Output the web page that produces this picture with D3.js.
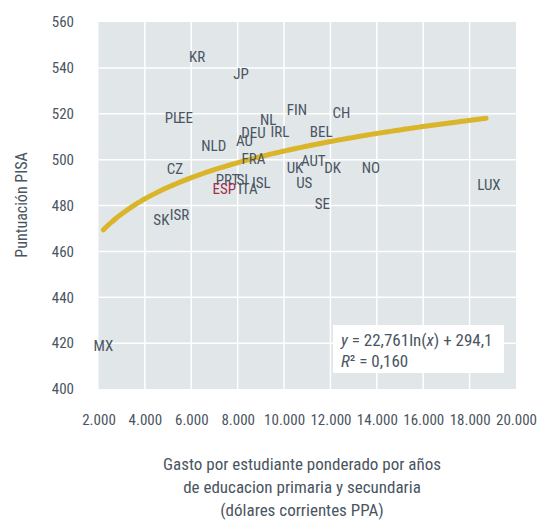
<!DOCTYPE html>
<html>
<head>
<meta charset="utf-8">
<script src="https://cdn.jsdelivr.net/npm/d3@7"></script>
<style>
  html, body { margin: 0; padding: 0; background: #ffffff; }
  svg text { font-family: "Roboto", sans-serif; font-stretch: condensed; }
</style>
</head>
<body>
<svg id="chart" width="537" height="520"></svg>
<script>
// ---- data ----
const countries = ["KR","JP","PL","EE","NL","FIN","CH","DEU","AU","IRL","BEL","NLD","FRA","CZ","UK","AUT","DK","NO","US","SE","PRT","SI","ESP","ITA","ISL","ISR","SK","MX","LUX"];
const gasto     = [6250, 8150, 5190, 5750, 9320, 10550, 12470, 8680, 8290, 9820, 11600, 6970, 8680, 5300, 10470, 11260, 12090, 13740, 10870, 11650, 7560, 8200, 7420, 8440, 9020, 5490, 4710, 2215, 18830];
const pisa      = [544.9, 537.4, 518.3, 518.3, 517.4, 521.7, 520.4, 511.5, 508.3, 512.2, 512.2, 505.9, 500.2, 495.9, 496.5, 499.3, 496.3, 496.5, 489.6, 480.7, 491.3, 491.3, 487.2, 487.2, 489.6, 475.9, 473.5, 418.9, 489.1];
const highlighted = ["ESP"];

const xTicks = [2000, 4000, 6000, 8000, 10000, 12000, 14000, 16000, 18000, 20000];
const xTickLabels = ["2.000","4.000","6.000","8.000","10.000","12.000","14.000","16.000","18.000","20.000"];
const yTicks = [400, 420, 440, 460, 480, 500, 520, 540, 560];

// trend: y = a ln(x) + b
const trendA = 22.761, trendB = 294.1;
const trendRange = [2215, 18710];

const yTitle = "Puntuación PISA";
const xTitle = ["Gasto por estudiante ponderado por años", "de educacion primaria y secundaria", "(dólares corrientes PPA)"];

// ---- layout ----
const svg = d3.select("#chart");
const x = d3.scaleLinear().domain([2000, 20000]).range([98.5, 516]);
const y = d3.scaleLinear().domain([400, 560]).range([389, 22]);

const textColor = "#4a5562";
const bg = "#e1e6e9";

// background
svg.append("rect")
  .attr("x", x(2000)).attr("y", y(560))
  .attr("width", x(20000) - x(2000)).attr("height", y(400) - y(560))
  .attr("fill", bg);

// grid
svg.append("g").selectAll("line").data(xTicks.slice(1, -1)).join("line")
  .attr("x1", d => x(d)).attr("x2", d => x(d))
  .attr("y1", y(560)).attr("y2", y(400))
  .attr("stroke", "#fff").attr("stroke-width", 1.5);
svg.append("g").selectAll("line").data(yTicks.slice(1, -1)).join("line")
  .attr("x1", x(2000)).attr("x2", x(20000))
  .attr("y1", d => y(d)).attr("y2", d => y(d))
  .attr("stroke", "#fff").attr("stroke-width", 1.5);

// axes (labels only)
const xAxis = d3.axisBottom(x).tickValues(xTicks).tickFormat((d, i) => xTickLabels[i]).tickSize(0).tickPadding(0);
const gx = svg.append("g").attr("transform", `translate(0, 414)`).call(xAxis);
gx.select(".domain").remove();
gx.selectAll("text").attr("fill", textColor).attr("font-size", 15).attr("font-family", null);

const yAxis = d3.axisLeft(y).tickValues(yTicks).tickFormat(d3.format("d")).tickSize(0).tickPadding(0);
const gy = svg.append("g").attr("transform", `translate(74, 0)`).call(yAxis);
gy.select(".domain").remove();
gy.selectAll("text").attr("fill", textColor).attr("font-size", 15).attr("font-family", null);

// trend line
const trendData = d3.range(0, 101).map(i => {
  const xv = trendRange[0] + (trendRange[1] - trendRange[0]) * i / 100;
  return [xv, trendA * Math.log(xv) + trendB];
});
svg.append("path")
  .attr("d", d3.line().x(d => x(d[0])).y(d => y(d[1])).curve(d3.curveMonotoneX)(trendData))
  .attr("fill", "none").attr("stroke", "#dab52a").attr("stroke-width", 5).attr("stroke-linecap", "round");

// country labels
svg.append("g").selectAll("text").data(countries).join("text")
  .attr("x", (d, i) => x(gasto[i]))
  .attr("y", (d, i) => y(pisa[i]))
  .attr("text-anchor", "middle")
  .attr("dominant-baseline", "central")
  .attr("font-size", 15)
  .attr("fill", d => highlighted.includes(d) ? "#a0304a" : textColor)
  .text(d => d);

// equation box
svg.append("rect").attr("x", 333).attr("y", 325).attr("width", 171).attr("height", 48).attr("fill", "#fff");
const eq1 = svg.append("text").attr("x", 341).attr("y", 346).attr("font-size", 17).attr("fill", textColor);
eq1.append("tspan").attr("font-style", "italic").text("y");
eq1.append("tspan").text(" = 22,761ln(");
eq1.append("tspan").attr("font-style", "italic").text("x");
eq1.append("tspan").text(") + 294,1");
const eq2 = svg.append("text").attr("x", 341).attr("y", 367).attr("font-size", 17).attr("fill", textColor);
eq2.append("tspan").attr("font-style", "italic").text("R");
eq2.append("tspan").text("² = 0,160");

// titles
svg.append("text")
  .attr("transform", `translate(21, 205) rotate(-90)`)
  .attr("text-anchor", "middle").attr("dominant-baseline", "central")
  .attr("font-size", 16).attr("fill", textColor).text(yTitle);

svg.append("g").selectAll("text").data(xTitle).join("text")
  .attr("x", 302).attr("y", (d, i) => 464 + i * 23)
  .attr("text-anchor", "middle").attr("dominant-baseline", "central")
  .attr("font-size", 17).attr("fill", textColor).text(d => d);
</script>
</body>
</html>
